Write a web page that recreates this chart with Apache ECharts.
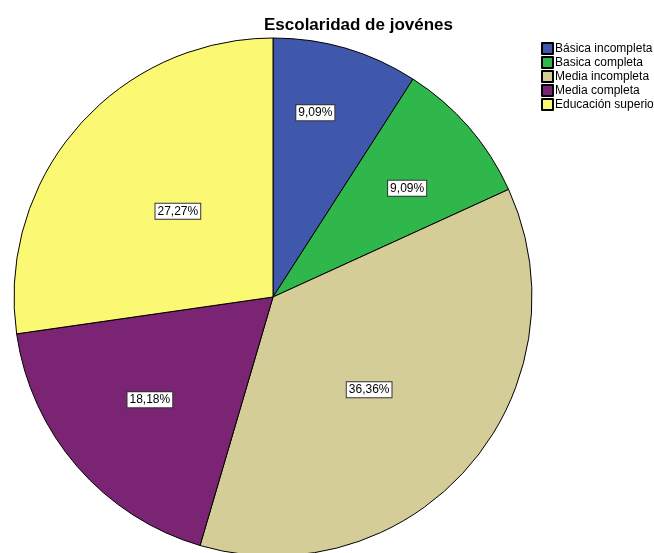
<!DOCTYPE html>
<html>
<head>
<meta charset="utf-8">
<script src="https://cdn.jsdelivr.net/npm/echarts@6/dist/echarts.min.js"></script>
<style>
  html, body { margin: 0; padding: 0; background: #fff; }
  #chart { width: 654px; height: 553px; }
</style>
</head>
<body>
<div id="chart"></div>
<script>
const categories = ['Básica incompleta', 'Basica completa', 'Media incompleta', 'Media completa', 'Educación superior']
const counts = [1, 1, 4, 2, 3]
const colors = ['#3f58ab', '#2fb74b', '#d4cd98', '#7b2474', '#fbf874']
// label nudges so the boxes land where the original put them
const labelOffsets = [[5, -57], [34, -22], [-4, 6], [-23, 16], [5, 1]]

const total = counts.reduce((a, b) => a + b, 0)

const chart = echarts.init(document.getElementById('chart'))
chart.setOption({
  animation: false,
  backgroundColor: '#fff',
  title: {
    text: 'Escolaridad de jovénes',
    left: 259,
    top: 12,
    textStyle: { fontFamily: 'Liberation Sans', fontSize: 17, fontWeight: 'bold', color: '#000' }
  },
  legend: {
    orient: 'vertical',
    left: 536,
    top: 37,
    itemWidth: 11,
    itemHeight: 11,
    itemGap: 1,
    icon: 'rect',
    textStyle: { fontFamily: 'Liberation Sans', fontSize: 12, color: '#000', padding: [0, 0, 0, -3] },
    data: categories
  },
  series: [
    {
      type: 'pie',
      center: [273, 297],
      radius: 259,
      startAngle: 90,
      clockwise: true,
      itemStyle: { borderColor: '#000', borderWidth: 1 },
      emphasis: { disabled: true },
      label: {
        position: 'inside',
        fontFamily: 'Liberation Sans',
        fontSize: 12,
        color: '#000',
        backgroundColor: '#fff',
        borderColor: '#333',
        borderWidth: 1,
        padding: [2, 2, 1, 2],
        formatter: (p) => (p.value / total * 100).toFixed(2).replace('.', ',') + '%'
      },
      labelLine: { show: false },
      data: categories.map((name, i) => ({
        name,
        value: counts[i],
        itemStyle: { color: colors[i] },
        label: { offset: labelOffsets[i] }
      }))
    }
  ]
})
</script>
</body>
</html>
